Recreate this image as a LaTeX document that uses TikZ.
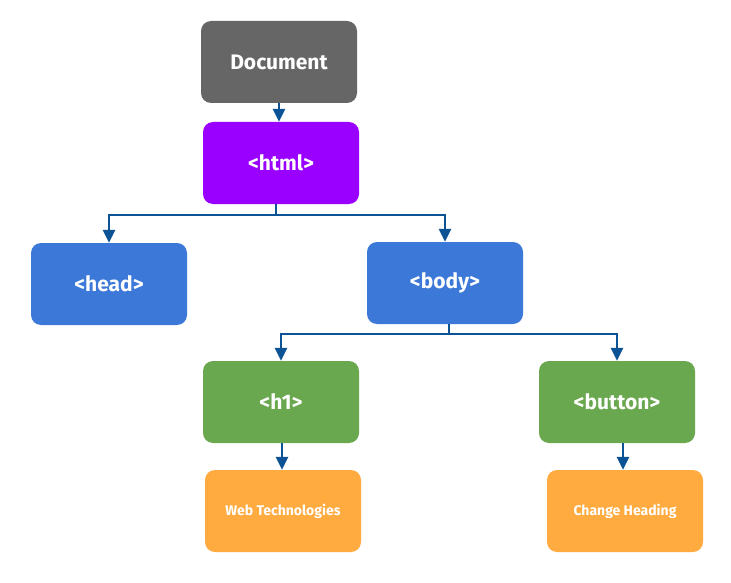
\documentclass[tikz,border=0pt]{standalone}
\usepackage{fontspec}
\setmainfont{Fira Sans}
\usetikzlibrary{arrows.meta}
\definecolor{docgray}{HTML}{666666}
\definecolor{htmlpurple}{HTML}{9900FF}
\definecolor{tagblue}{HTML}{3C78D8}
\definecolor{taggreen}{HTML}{6AA84F}
\definecolor{leaforange}{HTML}{FFAB40}
\definecolor{arrowblue}{HTML}{0B5394}
\tikzset{
  box/.style={rectangle, rounded corners=10pt, minimum width=156pt, minimum height=82pt,
    inner sep=0pt, text=white, font=\bfseries\fontsize{21}{24}\selectfont},
  leaf/.style={box, fill=leaforange, font=\bfseries\fontsize{14}{16}\selectfont},
  arr/.style={draw=arrowblue, line width=2.5pt, -{Triangle[width=12pt,length=13pt]}},
}
\begin{document}
\begin{tikzpicture}[x=1pt,y=-1pt]
\useasboundingbox[fill=white] (0,0) rectangle (731,583);
\node[box, fill=docgray] (doc) at (279,62) {Document};
\node[box, fill=htmlpurple] (html) at (281,163) {<html>};
\node[box, fill=tagblue] (head) at (109,284) {<head>};
\node[box, fill=tagblue] (body) at (445,283) {<body>};
\node[box, fill=taggreen] (h1) at (281,402) {<h1>};
\node[box, fill=taggreen] (button) at (617,402) {<button>};
\node[leaf] (web) at (283,511) {Web Technologies};
\node[leaf] (change) at (625,511) {Change Heading};

\draw[arr] (doc.south) -- (html.north -| doc.south);
\coordinate (hj) at (html.south -| 276,0);
\coordinate (hm) at (276,215);
\draw[arr] (hj) -- (hm) -| (head.north);
\draw[arr] (hm) -| (body.north);
\coordinate (bj) at (body.south -| 449,0);
\coordinate (bm) at (449,334);
\draw[arr] (bj) -- (bm) -| (h1.north);
\draw[arr] (bm) -| (button.north);
\draw[arr] (h1.south -| 282,0) -- (web.north -| 282,0);
\draw[arr] (button.south -| 623,0) -- (change.north -| 623,0);
\end{tikzpicture}
\end{document}
